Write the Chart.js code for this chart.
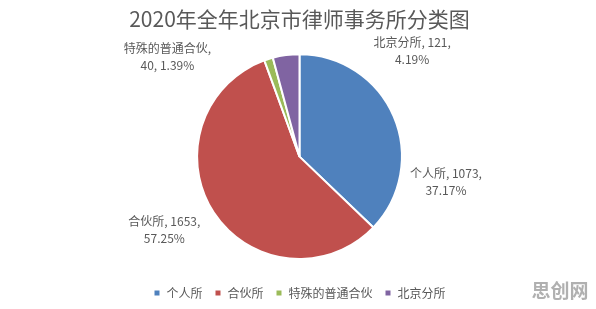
<!DOCTYPE html>
<html><head><meta charset="utf-8">
<script src="https://cdn.jsdelivr.net/npm/chart.js@4"></script>
<style>html,body{margin:0;padding:0;background:#fff}#w{width:596px;height:309px}</style>
</head><body><div id="w"><canvas id="c"></canvas></div>
<script>
const categories = ['个人所', '合伙所', '特殊的普通合伙', '北京分所'];
const counts = [1073, 1653, 40, 121];
const percents = ['37.17%', '57.25%', '1.39%', '4.19%'];
const colors = ['#4F81BD', '#C0504D', '#9BBB59', '#8064A2'];
const titleText = '2020年全年北京市律师事务所分类图';

const FONT = '"Noto Sans CJK SC", "Noto Sans", sans-serif';
const GRAY = '#595959';
// label placement relative to pie centre, in radius units (layout only)
const labelPos = [[1.43, 0.25], [-1.32, 0.72], [-1.29, -0.97], [1.10, -1.03]];
function labelLines(i) {
  if (i === 2) return [categories[i] + ',', counts[i] + ', ' + percents[i]];
  return [categories[i] + ', ' + counts[i] + ',', percents[i]];
}

const labelPlugin = {
  id: 'labels',
  afterDatasetsDraw(chart) {
    const ctx = chart.ctx;
    const meta = chart.getDatasetMeta(0);
    ctx.save();
    ctx.font = '12px ' + FONT;
    ctx.fillStyle = GRAY;
    ctx.textAlign = 'center';
    ctx.textBaseline = 'middle';
    meta.data.forEach((arc, i) => {
      const r = arc.outerRadius;
      const cx = arc.x + labelPos[i][0] * r;
      const cy = arc.y + labelPos[i][1] * r;
      const lines = labelLines(i);
      ctx.fillText(lines[0], cx, cy - 8.5);
      ctx.fillText(lines[1], cx, cy + 8.5);
    });
    ctx.font = 'bold 19px ' + FONT;
    ctx.fillStyle = 'rgba(150,150,150,0.75)';
    ctx.textAlign = 'center';
    ctx.fillText('思创网', 560, 291);
    ctx.restore();
  }
};

new Chart(document.getElementById('c'), {
  type: 'pie',
  data: {
    labels: categories,
    datasets: [{
      data: counts,
      backgroundColor: colors,
      borderColor: '#ffffff',
      borderWidth: 2
    }]
  },
  options: {
    responsive: true,
    maintainAspectRatio: false,
    animation: false,
    layout: { padding: { left: 3, right: 0, top: 0, bottom: 0 } },
    plugins: {
      tooltip: { enabled: false },
      title: {
        display: true,
        text: titleText,
        color: GRAY,
        font: { family: FONT, size: 21, weight: 'normal' },
        padding: { top: 6, bottom: 22 }
      },
      legend: {
        display: true,
        position: 'bottom',
        title: {
          display: true,
          text: ' ',
          font: { size: 1, lineHeight: 1 },
          padding: { top: 14, bottom: 0 }
        },
        labels: {
          color: GRAY,
          font: { family: FONT, size: 12 },
          boxWidth: 7,
          boxHeight: 7,
          padding: 12
        }
      }
    }
  },
  plugins: [labelPlugin]
});
</script></body></html>
